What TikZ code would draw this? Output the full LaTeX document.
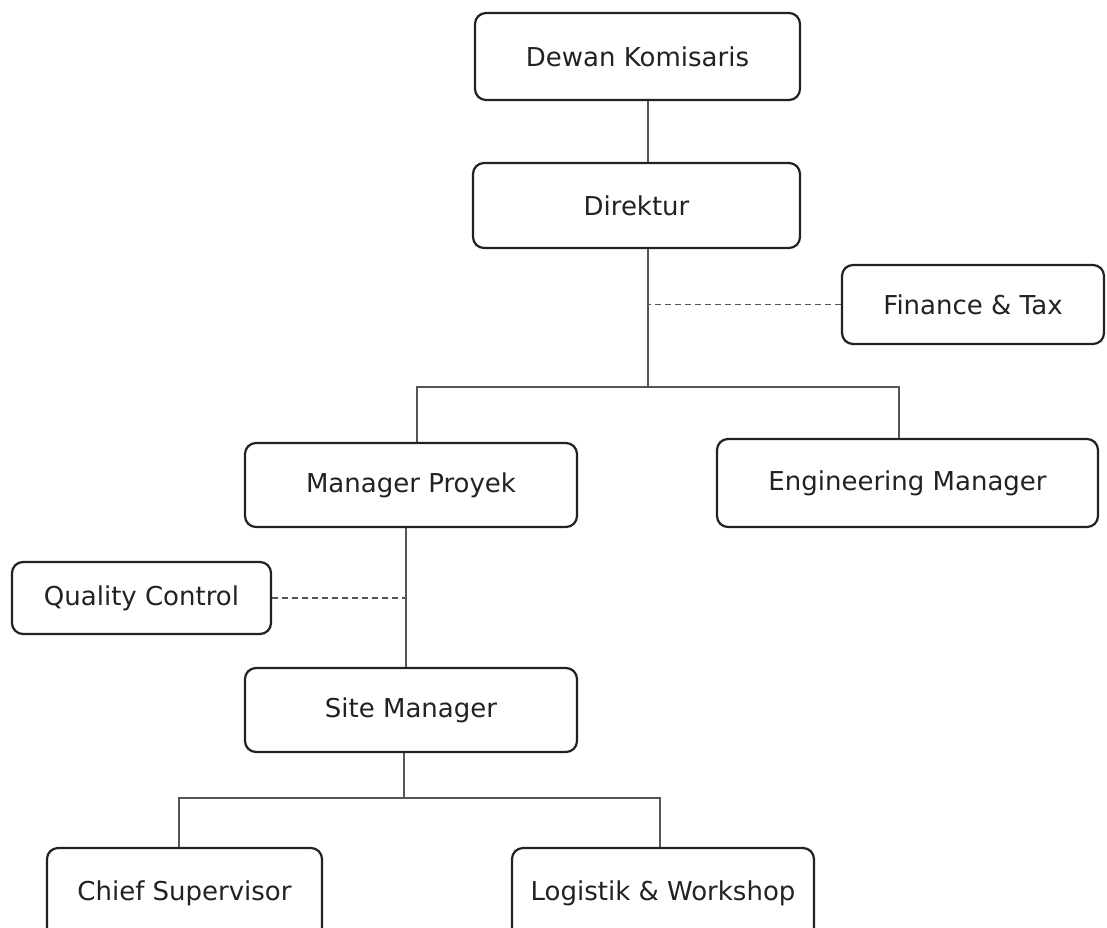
\documentclass[tikz,border=0pt]{standalone}
\usepackage{fontspec}
\setmainfont{DejaVu Sans}
\definecolor{boxline}{HTML}{222222}
\definecolor{conn}{HTML}{555555}
\definecolor{txt}{HTML}{222222}
\tikzset{
  orgbox/.style={draw=boxline, line width=2.2pt, rounded corners=11pt, fill=white,
    text=txt, font=\fontsize{26}{30}\selectfont, inner sep=0pt, anchor=center},
  link/.style={draw=conn, line width=1.4pt},
  dashlink/.style={draw=conn, line width=1.4pt, dash pattern=on 6pt off 4pt},
}
\begin{document}
\begin{tikzpicture}[x=1pt,y=1pt]
\clip (0,0) rectangle (1107,-927);
\fill[white] (0,0) rectangle (1107,-927);

\node[orgbox, minimum width=325pt, minimum height=87pt] (dewan) at (637.5,-56.5) {Dewan Komisaris};
\node[orgbox, minimum width=327pt, minimum height=85pt] (direktur) at (636.5,-205.5) {Direktur};
\node[orgbox, minimum width=262pt, minimum height=79pt] (finance) at (973,-304.5) {Finance \& Tax};
\node[orgbox, minimum width=332pt, minimum height=84pt] (mproyek) at (411,-485) {Manager Proyek};
\node[orgbox, minimum width=381pt, minimum height=88pt] (eng) at (907.5,-483) {Engineering Manager};
\node[orgbox, minimum width=259pt, minimum height=72pt] (qc) at (141.5,-598) {Quality Control};
\node[orgbox, minimum width=332pt, minimum height=84pt] (site) at (411,-710) {Site Manager};
\node[orgbox, minimum width=275pt, minimum height=90pt] (chief) at (184.5,-893) {Chief Supervisor};
\node[orgbox, minimum width=302pt, minimum height=90pt] (logistik) at (663,-893) {Logistik \& Workshop};

\coordinate (j1) at (648,-387);
\coordinate (jl) at (417,-387);
\coordinate (jr) at (899,-387);
\coordinate (k1) at (406,-600);
\coordinate (m1) at (404,-798);
\coordinate (ml) at (179,-798);
\coordinate (mr) at (660,-798);

\draw[link] (dewan.south -| j1) -- (direktur.north -| j1);
\draw[link] (direktur.south -| j1) -- (j1);
\draw[link] (mproyek.north -| jl) -- (jl) -- (jr) -- (eng.north -| jr);
\draw[dashlink] (finance.west) -- (finance.west -| j1);

\draw[link] (mproyek.south -| k1) -- (site.north -| k1);
\draw[dashlink] (qc.east) -- (qc.east -| k1);

\draw[link] (site.south -| m1) -- (m1);
\draw[link] (chief.north -| ml) -- (ml) -- (mr) -- (logistik.north -| mr);
\end{tikzpicture}
\end{document}
